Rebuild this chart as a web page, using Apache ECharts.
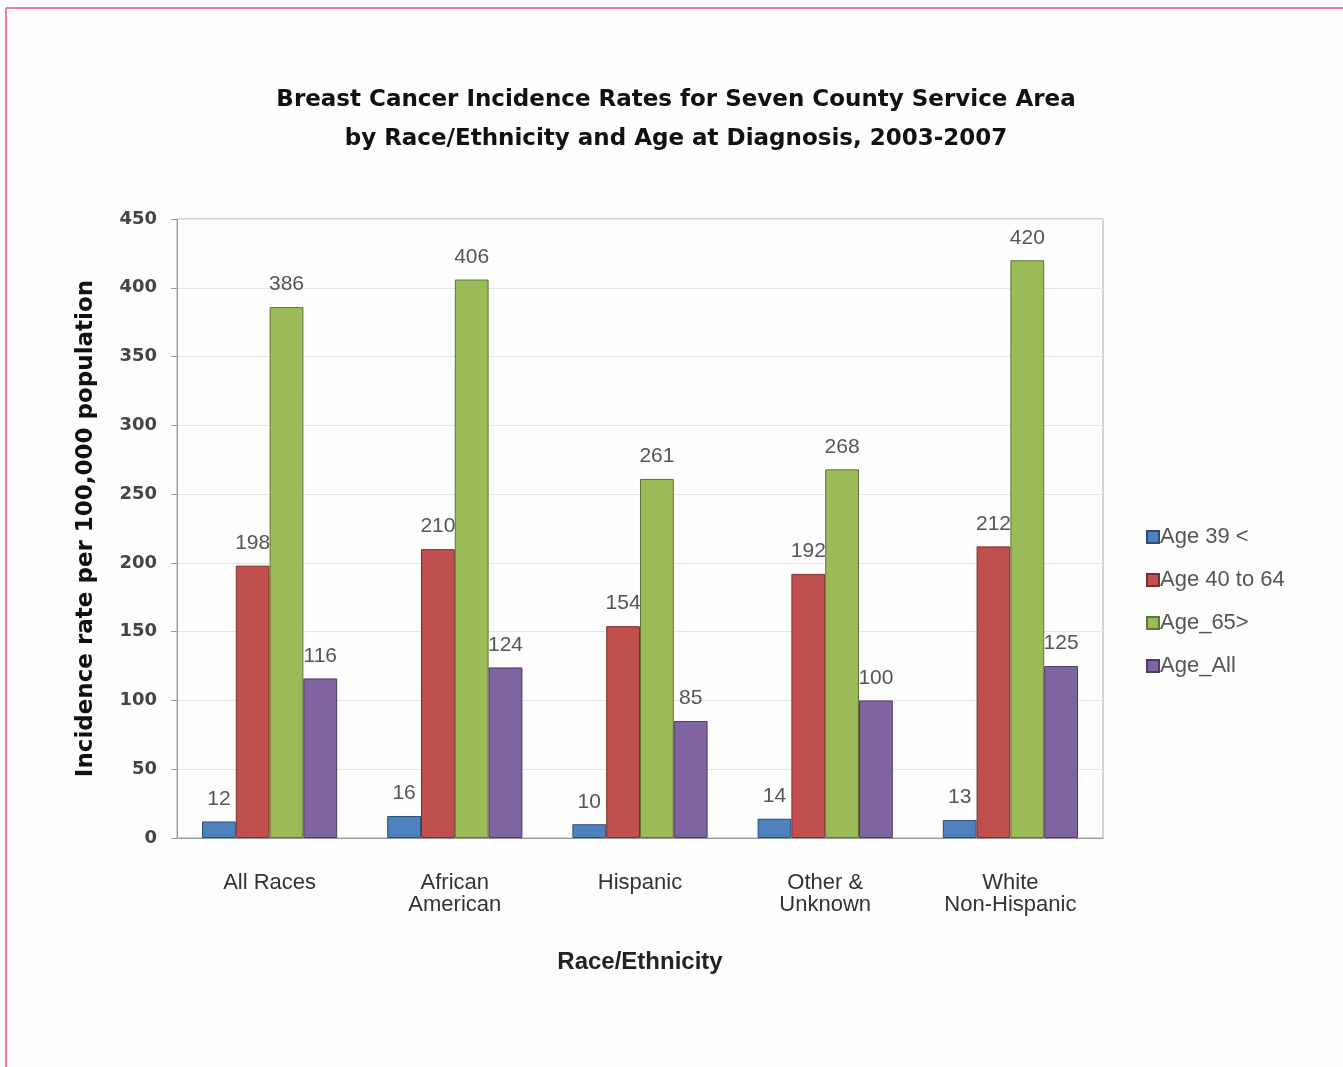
<!DOCTYPE html>
<html><head><meta charset="utf-8">
<script src="https://cdn.jsdelivr.net/npm/echarts@6/dist/echarts.min.js"></script>
<style>html,body{margin:0;padding:0;background:#fdfdfd}#c{width:1343px;height:1067px}</style>
</head><body><div id="c"></div>
<script>
const categories = ['All Races', 'African\nAmerican', 'Hispanic', 'Other &\nUnknown', 'White\nNon-Hispanic'];
const seriesNames = ['Age 39 <', 'Age 40 to 64', 'Age_65>', 'Age_All'];
const age39 = [12, 16, 10, 14, 13];
const age40to64 = [198, 210, 154, 192, 212];
const age65 = [386, 406, 261, 268, 420];
const ageAll = [116, 124, 85, 100, 125];
const colors = ['#4F81BD', '#C0504D', '#9BBB59', '#8064A2'];
const borders = ['#2c4d75', '#7a2e2c', '#5f7534', '#4d3b63'];

const chart = echarts.init(document.getElementById('c'));
const data = [age39, age40to64, age65, ageAll];
chart.setOption({
  backgroundColor: '#fdfdfd',
  animation: false,
  title: {
    text: 'Breast Cancer Incidence Rates for Seven County Service Area\nby Race/Ethnicity and Age at Diagnosis, 2003-2007',
    left: 671, top: 76, textAlign: 'center',
    textStyle: { fontFamily: 'DejaVu Sans', fontWeight: 'bold', fontSize: 23, lineHeight: 39, color: '#111' }
  },
  graphic: [
    { type: 'line', shape: { x1: 6, y1: 8, x2: 6, y2: 1067 }, style: { stroke: '#f07ab0', lineWidth: 2 } },
    { type: 'line', shape: { x1: 6, y1: 8, x2: 1343, y2: 8 }, style: { stroke: '#f07ab0', lineWidth: 2 } }
  ],
  legend: {
    orient: 'vertical', left: 1141, top: 521, itemGap: 21,
    itemWidth: 12, itemHeight: 12, icon: 'rect',
    textStyle: { fontFamily: 'Liberation Sans', fontSize: 22, color: '#555', padding: [0, 0, 0, -4] },
    data: seriesNames
  },
  grid: { left: 177, right: 240, top: 219, bottom: 229, show: true, borderColor: '#aaa', borderWidth: 1 },
  xAxis: {
    type: 'category', data: categories,
    name: 'Race/Ethnicity', nameLocation: 'middle', nameGap: 112,
    nameTextStyle: { fontFamily: 'Liberation Sans', fontWeight: 'bold', fontSize: 24, color: '#222' },
    axisLine: { lineStyle: { color: '#999' } },
    axisTick: { show: false },
    axisLabel: { fontFamily: 'Liberation Sans', fontSize: 22, color: '#333', lineHeight: 22, margin: 34 }
  },
  yAxis: {
    type: 'value', min: 0, max: 450, interval: 50,
    name: 'Incidence rate per 100,000 population', nameLocation: 'middle', nameGap: 79,
    nameTextStyle: { fontFamily: 'DejaVu Sans', fontWeight: 'bold', fontSize: 23, color: '#111' },
    axisLine: { show: true, lineStyle: { color: '#999' } },
    axisTick: { show: true, length: 6, lineStyle: { color: '#999' } },
    axisLabel: { fontFamily: 'DejaVu Sans', fontWeight: 'bold', fontSize: 18, color: '#444', margin: 20 },
    splitLine: { lineStyle: { color: '#e6e6e6' } }
  },
  series: seriesNames.map((n, i) => ({
    name: n, type: 'bar', data: data[i],
    barGap: '0%', barCategoryGap: '27%',
    itemStyle: { color: colors[i], borderColor: borders[i], borderWidth: 1 },
    label: { show: true, position: 'top', distance: 12, fontFamily: 'Liberation Sans', fontSize: 21, color: '#555' }
  }))
});
</script></body></html>
